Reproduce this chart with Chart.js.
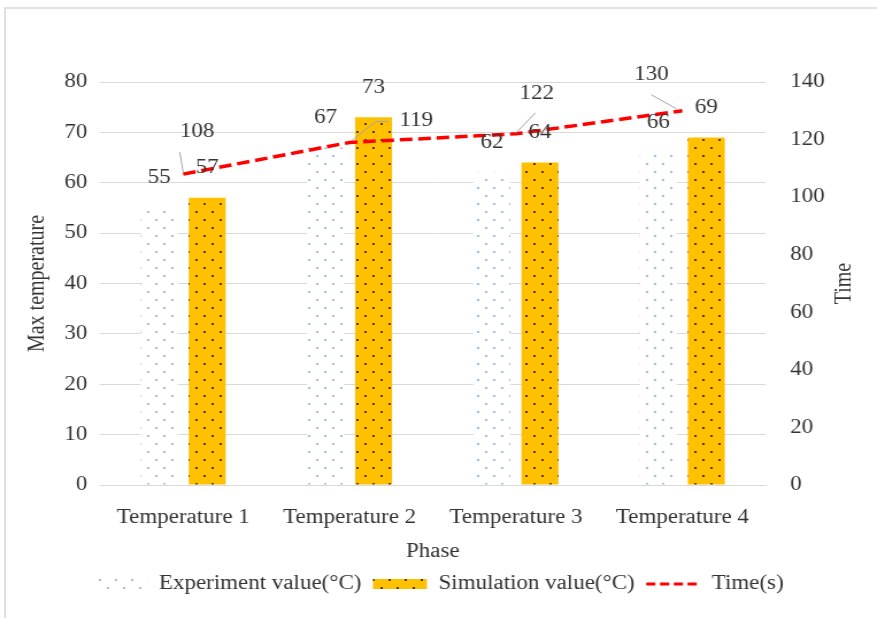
<!DOCTYPE html>
<html>
<head>
<meta charset="utf-8">
<script src="https://cdn.jsdelivr.net/npm/chart.js@4/dist/chart.umd.min.js"></script>
<style>
  html, body { margin: 0; padding: 0; background: #fff; overflow: hidden; }
  #frame { position: absolute; left: 4px; top: 7px; width: 1000px; height: 1000px; border: 2px solid #e0e0e0; }
  #wrap { position: absolute; left: 0; top: 0; width: 763px; height: 618px; transform: scaleX(1.1494); transform-origin: 0 0; }
</style>
</head>
<body>
<div id="frame"></div>
<div id="wrap"><canvas id="chart" width="763" height="618"></canvas></div>
<script>
const phases = ["Temperature 1", "Temperature 2", "Temperature 3", "Temperature 4"];
const experimentValues = [55, 67, 62, 66];
const simulationValues = [57, 73, 64, 69];
const timeValues = [108, 119, 122, 130];

// where the Time labels were dragged to, relative to their point, plus leader lines
const timeLabelPlacement = [
  { dx: 12, dy: -42, leader: [[-3, -22], [0, -2]] },
  { dx: 58, dy: -22, leader: [[34, -21], [23, -21], [2, -2]] },
  { dx: 18, dy: -40, leader: [[17, -21], [0, -1]] },
  { dx: -27, dy: -36, leader: [[-27, -16], [-5, -2]] }
];

const FONT = "'Liberation Serif', 'Times New Roman', serif";
const TEXT = "#333333";
Chart.defaults.font.family = FONT;
Chart.defaults.font.size = 20;

const ctx = document.getElementById("chart").getContext("2d");

function dotPattern(bg, dot) {
  const c = document.createElement("canvas");
  c.width = 14;
  c.height = 16;
  const g = c.getContext("2d");
  if (bg) {
    g.fillStyle = bg;
    g.fillRect(0, 0, 14, 16);
  }
  g.fillStyle = dot;
  [[3, 4], [10, 12]].forEach(([x, y]) => {
    g.beginPath();
    g.arc(x, y, 0.95, 0, Math.PI * 2);
    g.fill();
  });
  return ctx.createPattern(c, "repeat");
}

const expFill = dotPattern("#ffffff", "#6fa8dc");
const simFill = dotPattern("#ffc000", "#000000");

const valueLabels = {
  id: "valueLabels",
  afterDatasetsDraw(chart) {
    const c = chart.ctx;
    c.save();
    c.font = "20px " + FONT;
    c.fillStyle = TEXT;
    c.textAlign = "center";
    c.textBaseline = "middle";
    chart.data.datasets.forEach((ds, i) => {
      const meta = chart.getDatasetMeta(i);
      meta.data.forEach((el, j) => {
        if (ds.type === "line") {
          const p = timeLabelPlacement[j];
          c.strokeStyle = "#a6a6a6";
          c.lineWidth = 1;
          c.beginPath();
          p.leader.forEach(([dx, dy], k) => {
            if (k === 0) c.moveTo(el.x + dx, el.y + dy);
            else c.lineTo(el.x + dx, el.y + dy);
          });
          c.stroke();
          c.fillText(ds.data[j], el.x + p.dx, el.y + p.dy);
        } else {
          c.fillText(ds.data[j], el.x, el.y - 30);
        }
      });
    });
    c.restore();
  },
  afterDraw(chart) {
    const c = chart.ctx;
    const area = chart.chartArea;
    c.save();
    c.font = "20px " + FONT;
    c.fillStyle = TEXT;
    c.textAlign = "center";
    c.textBaseline = "middle";
    c.translate(735, (area.top + area.bottom) / 2);
    c.rotate(-Math.PI / 2);
    c.fillText("Time", 0, 0);
    c.restore();
  }
};

new Chart(ctx, {
  type: "bar",
  data: {
    labels: phases,
    datasets: [
      {
        label: "Experiment value(°C)",
        data: experimentValues,
        backgroundColor: expFill,
        borderWidth: 0,
        yAxisID: "y",
        order: 1,
        categoryPercentage: 0.577,
        barPercentage: 0.77
      },
      {
        label: "Simulation value(°C)",
        data: simulationValues,
        backgroundColor: simFill,
        borderWidth: 0,
        yAxisID: "y",
        order: 2,
        categoryPercentage: 0.577,
        barPercentage: 0.77
      },
      {
        type: "line",
        label: "Time(s)",
        data: timeValues,
        borderColor: "#ff0000",
        borderWidth: 3.5,
        borderDash: [11, 5],
        pointRadius: 0,
        tension: 0,
        fill: false,
        yAxisID: "y1",
        order: 0
      }
    ]
  },
  options: {
    responsive: false,
    animation: false,
    layout: { padding: { top: 82, bottom: 14, left: 0, right: 0 } },
    plugins: {
      tooltip: { enabled: false },
      legend: {
        position: "bottom",
        labels: {
          usePointStyle: true,
          pointStyleWidth: 47,
          boxHeight: 10,
          padding: 10,
          color: TEXT,
          font: { size: 20 },
          generateLabels(chart) {
            return chart.data.datasets.map((ds, i) => {
              if (ds.type === "line") {
                return {
                  text: ds.label, datasetIndex: i, pointStyle: "line",
                  strokeStyle: ds.borderColor, fillStyle: ds.borderColor,
                  lineWidth: 3, lineDash: [8, 4], fontColor: TEXT, hidden: false
                };
              }
              return {
                text: ds.label, datasetIndex: i, pointStyle: "rect",
                fillStyle: ds.backgroundColor, strokeStyle: "transparent",
                lineWidth: 0, fontColor: TEXT, hidden: false
              };
            });
          }
        }
      }
    },
    scales: {
      x: {
        grid: { display: false },
        border: { display: true, color: "#d9d9d9", width: 1 },
        ticks: { color: TEXT, padding: 13, maxRotation: 0 },
        title: { display: true, text: "Phase", color: TEXT, padding: { top: 11, bottom: 0 } },
        afterFit(s) { s.height -= 14; }
      },
      y: {
        position: "left",
        min: 0,
        max: 80,
        ticks: { stepSize: 10, padding: 11, color: TEXT },
        grid: { color: "#d9d9d9", drawTicks: false },
        border: { display: false },
        title: { display: true, text: "Max temperature", color: TEXT, padding: { top: 21, bottom: 0 } },
        afterFit(s) { s.width = 87; }
      },
      y1: {
        position: "right",
        min: 0,
        max: 140,
        ticks: { stepSize: 20, padding: 13.5, color: TEXT },
        grid: { display: false },
        border: { display: false },
        afterFit(s) { s.width = 97; }
      }
    }
  },
  plugins: [valueLabels]
});
</script>
</body>
</html>
